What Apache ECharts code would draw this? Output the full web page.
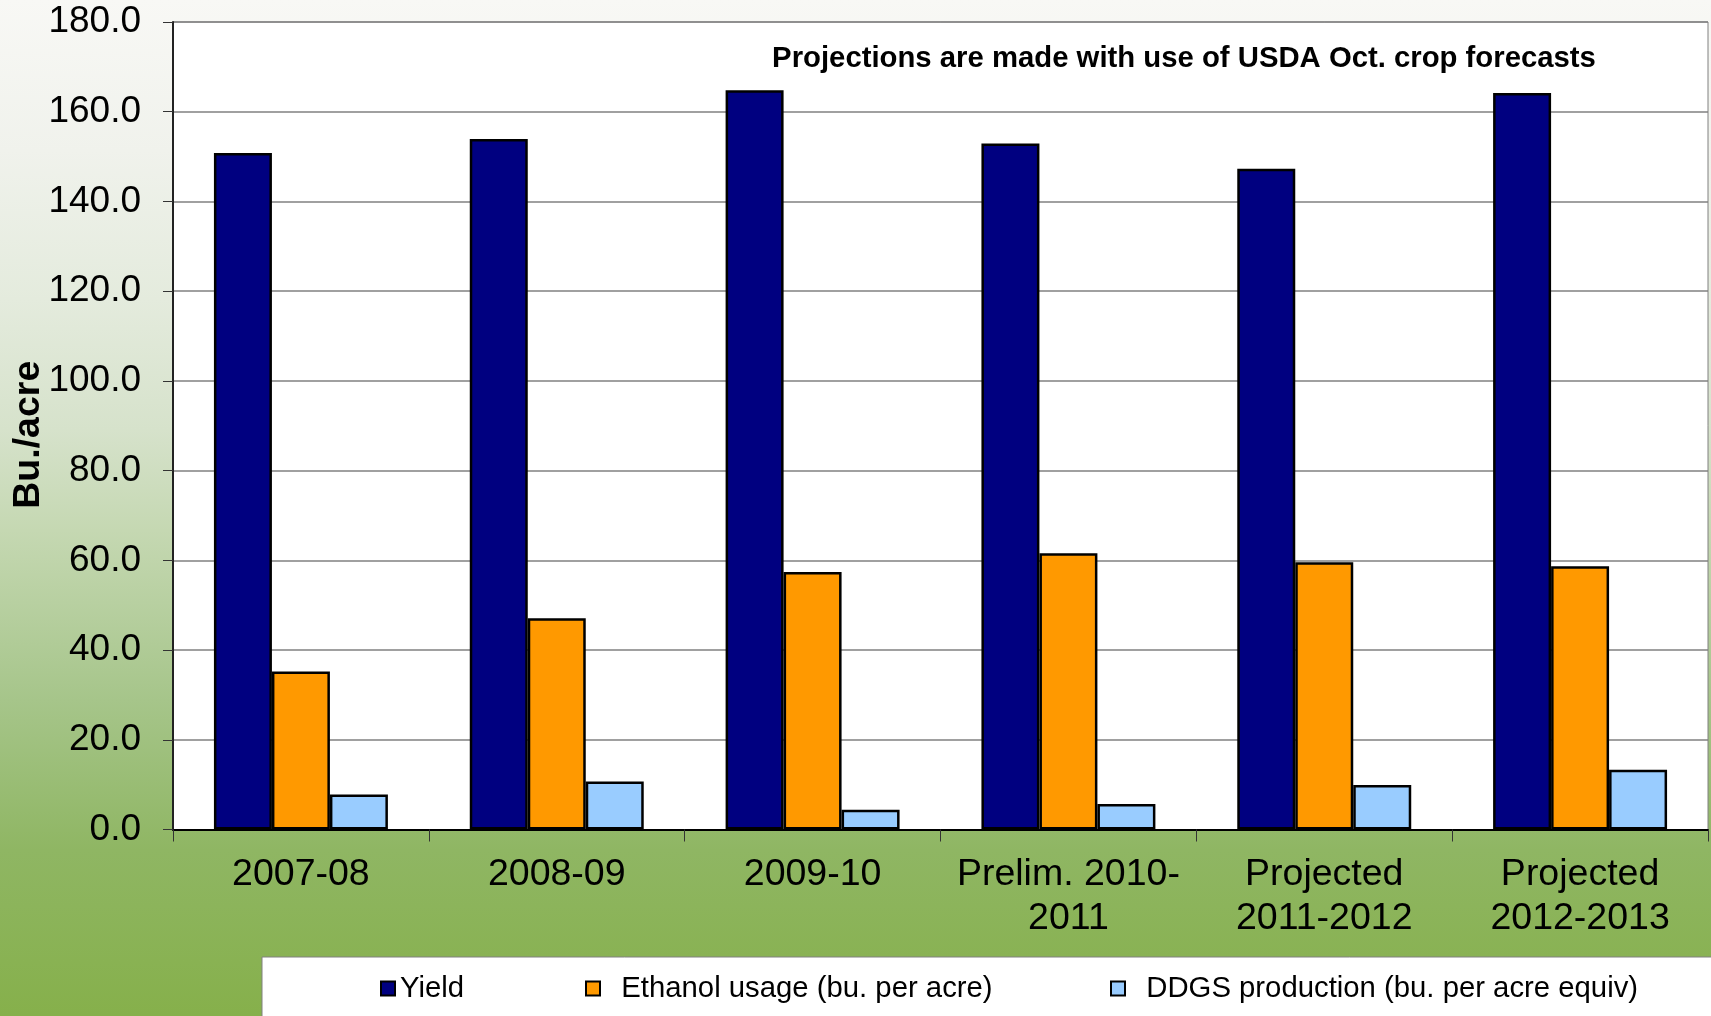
<!DOCTYPE html>
<html>
<head>
<meta charset="utf-8">
<script src="https://cdn.jsdelivr.net/npm/echarts@6/dist/echarts.min.js"></script>
<style>
html,body{margin:0;padding:0;background:#fff;}
#chart{width:1711px;height:1016px;}
</style>
</head>
<body>
<div id="chart"></div>
<script>
const categories = ['2007-08', '2008-09', '2009-10', 'Prelim. 2010-\n2011', 'Projected\n2011-2012', 'Projected\n2012-2013'];
const yieldValues = [150.8, 153.9, 164.8, 152.9, 147.3, 164.2];
const ethanolValues = [35.2, 47.1, 57.4, 61.6, 59.6, 58.7];
const ddgsValues = [7.8, 10.7, 4.4, 5.7, 9.9, 13.3];
const seriesNames = ['Yield', '  Ethanol usage (bu. per acre)', '  DDGS production (bu. per acre equiv)'];
const titleText = 'Projections are made with use of USDA Oct. crop forecasts';
const yAxisName = 'Bu./acre';

const FONT = 'Liberation Sans, Arial, sans-serif';
const chart = echarts.init(document.getElementById('chart'), null, {renderer: 'canvas'});

const legendBase = {
  orient: 'horizontal',
  top: 974,
  padding: 0,
  itemWidth: 14,
  itemHeight: 14,
  icon: 'rect',
  selectedMode: false,
  textStyle: {fontFamily: FONT, fontSize: 29.3, color: '#000'}
};

const option = {
  animation: false,
  backgroundColor: {
    type: 'linear', x: 0, y: 0, x2: 0, y2: 1,
    colorStops: [
      {offset: 0, color: '#f8f8f5'},
      {offset: 0.148, color: '#f0f2ec'},
      {offset: 0.295, color: '#e4ebdd'},
      {offset: 0.423, color: '#d6e2cb'},
      {offset: 0.522, color: '#c5d8b2'},
      {offset: 0.689, color: '#a6c58a'},
      {offset: 0.837, color: '#8fb663'},
      {offset: 1, color: '#86b04b'}
    ]
  },
  grid: {left: 173, top: 22, right: 3, bottom: 186.5, containLabel: false, outerBoundsMode: 'none',
         show: true, backgroundColor: '#ffffff', borderColor: '#808080', borderWidth: 1},
  graphic: [
    {type: 'rect', z: 0, shape: {x: 262, y: 957, width: 1460, height: 70},
     style: {fill: '#ffffff', stroke: '#808080', lineWidth: 1}},
    {type: 'text', z: 10, x: 1184, y: 59,
     style: {text: titleText, font: 'bold 29.3px ' + FONT, fill: '#000',
             textAlign: 'center', textVerticalAlign: 'middle'}}
  ],
  legend: [
    Object.assign({}, legendBase, {left: 380, data: [seriesNames[0]]}),
    Object.assign({}, legendBase, {left: 585, data: [seriesNames[1]]}),
    Object.assign({}, legendBase, {left: 1110, data: [seriesNames[2]]})
  ],
  xAxis: {
    type: 'category',
    data: categories,
    axisLine: {show: true, lineStyle: {color: '#000', width: 2}},
    axisTick: {show: true, length: 12, lineStyle: {color: '#333', width: 1}},
    axisLabel: {fontFamily: FONT, fontSize: 37.5, color: '#000', margin: 23, lineHeight: 44, interval: 0}
  },
  yAxis: {
    type: 'value',
    min: 0, max: 180, interval: 20,
    name: yAxisName,
    nameLocation: 'middle',
    nameGap: 125,
    nameMoveOverlap: false,
    nameTextStyle: {fontFamily: FONT, fontSize: 37.5, fontWeight: 'bold', color: '#000',
                    padding: [0, 18, 0, 0]},
    axisLine: {show: true, lineStyle: {color: '#222', width: 2}},
    axisTick: {show: true, length: 10, lineStyle: {color: '#333', width: 1}},
    axisLabel: {fontFamily: FONT, fontSize: 37, color: '#000', margin: 32,
                formatter: v => v.toFixed(1)},
    splitLine: {show: true, lineStyle: {color: '#808080', width: 1.5}}
  },
  series: [
    {name: seriesNames[0], type: 'bar', data: yieldValues, barGap: '0%', barCategoryGap: '32%',
     itemStyle: {color: '#000080', borderColor: '#000', borderWidth: 2.5}},
    {name: seriesNames[1], type: 'bar', data: ethanolValues, barGap: '0%', barCategoryGap: '32%',
     itemStyle: {color: '#ff9900', borderColor: '#000', borderWidth: 2.5}},
    {name: seriesNames[2], type: 'bar', data: ddgsValues, barGap: '0%', barCategoryGap: '32%',
     itemStyle: {color: '#99ccff', borderColor: '#000', borderWidth: 2.5}}
  ]
};
chart.setOption(option);
</script>
</body>
</html>
